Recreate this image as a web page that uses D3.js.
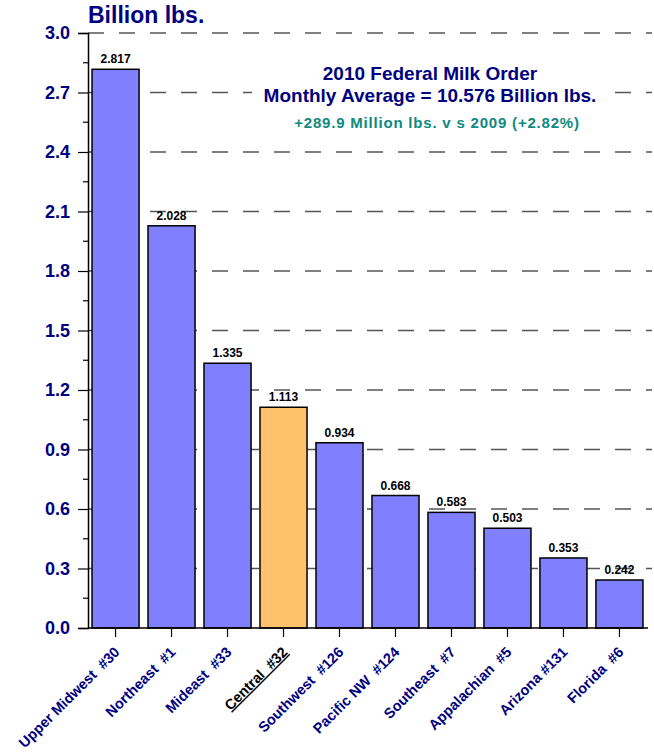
<!DOCTYPE html>
<html><head><meta charset="utf-8">
<script src="https://cdn.jsdelivr.net/npm/d3@7"></script>
<style>body{margin:0;background:#fff}svg{display:block}text{font-family:"Liberation Sans",Arial,sans-serif;font-weight:bold}</style>
</head><body><svg id="c" width="654" height="752"></svg>
<script>
const categories = ["Upper Midwest  #30","Northeast  #1","Mideast  #33","Central  #32","Southwest  #126","Pacific NW  #124","Southeast  #7","Appalachian  #5","Arizona #131","Florida  #6"];
const values = [2.817,2.028,1.335,1.113,0.934,0.668,0.583,0.503,0.353,0.242];
const highlight = "Central  #32";
const yTicks = [0.0,0.3,0.6,0.9,1.2,1.5,1.8,2.1,2.4,2.7,3.0];
const yMinorTicks = [0.15,0.45,0.75,1.05,1.35,1.65,1.95,2.25,2.55,2.85];
const titleText = "Billion lbs.";
const noteLines = ["2010 Federal Milk Order","Monthly Average = 10.576 Billion lbs."];
const noteSub = "+289.9 Million lbs. v s 2009 (+2.82%)";

const svg = d3.select("#c");
const navy = "#000080";
const x = d3.scaleBand().domain(categories).range([88,647]).paddingInner(0.16).paddingOuter(0.072);
const y = d3.scaleLinear().domain([0,3]).range([628,33]);

// gridlines
svg.append("g").selectAll("line").data(yTicks.filter(d=>d>0)).join("line")
  .attr("x1",88).attr("x2",652).attr("y1",d=>y(d)).attr("y2",d=>y(d))
  .attr("stroke","#555").attr("stroke-width",1.3).attr("stroke-dasharray","16,15");

// annotation background + text
svg.append("rect").attr("x",252).attr("y",62).attr("width",354).attr("height",70).attr("fill","#fff");
svg.append("g").selectAll("text").data(noteLines).join("text")
  .attr("x",430).attr("y",(d,i)=>80+i*22).attr("text-anchor","middle")
  .attr("font-size",19).attr("fill",navy).text(d=>d);
svg.append("text").attr("x",437).attr("y",127.5).attr("text-anchor","middle")
  .attr("font-size",15).attr("letter-spacing",0.8).style("white-space","pre")
  .attr("fill","#0E8A80").text(noteSub);

// bars
svg.append("g").selectAll("rect").data(categories).join("rect")
  .attr("x",d=>x(d)).attr("width",x.bandwidth())
  .attr("y",(d,i)=>y(values[i])).attr("height",(d,i)=>y(0)-y(values[i]))
  .attr("fill",d=>d===highlight?"#FFC16C":"#8080FF")
  .attr("stroke","#000").attr("stroke-width",1.5);

// value labels
svg.append("g").selectAll("text").data(categories).join("text")
  .attr("x",d=>x(d)+x.bandwidth()/2).attr("y",(d,i)=>y(values[i])-6)
  .attr("text-anchor","middle").attr("font-size",12).attr("fill","#000")
  .text((d,i)=>values[i].toFixed(3));

// y axis
const yAxis = svg.append("g").attr("transform","translate(88,0)");
yAxis.call(d3.axisLeft(y).tickValues(yTicks).tickFormat(d3.format(".1f")).tickSize(10).tickPadding(8));
yAxis.select(".domain").attr("stroke","#000").attr("stroke-width",1.5);
yAxis.selectAll(".tick line").attr("stroke","#000").attr("stroke-width",1.2);
yAxis.selectAll(".tick text").attr("font-size",18).attr("fill",navy).attr("font-family",null);
yAxis.append("g").selectAll("line").data(yMinorTicks).join("line")
  .attr("x1",-5).attr("x2",0).attr("y1",d=>y(d)).attr("y2",d=>y(d)).attr("stroke","#000").attr("stroke-width",1.2);

// x axis
svg.append("line").attr("x1",88).attr("x2",648).attr("y1",y(0)).attr("y2",y(0)).attr("stroke","#000").attr("stroke-width",1.5);
svg.append("g").selectAll("line").data(categories).join("line")
  .attr("x1",d=>x(d)+x.bandwidth()/2).attr("x2",d=>x(d)+x.bandwidth()/2)
  .attr("y1",y(0)).attr("y2",y(0)+9).attr("stroke","#000").attr("stroke-width",1.2);
svg.append("g").selectAll("text").data(categories).join("text")
  .attr("transform",d=>`translate(${x(d)+x.bandwidth()/2+5},653) rotate(-45)`)
  .attr("text-anchor","end").attr("font-size",14.5).style("white-space","pre")
  .attr("fill",d=>d===highlight?"#000":navy)
  .attr("text-decoration",d=>d===highlight?"underline":null)
  .text(d=>d);

// title
svg.append("text").attr("x",88).attr("y",23).attr("font-size",23).attr("fill",navy).text(titleText);
</script></body></html>
